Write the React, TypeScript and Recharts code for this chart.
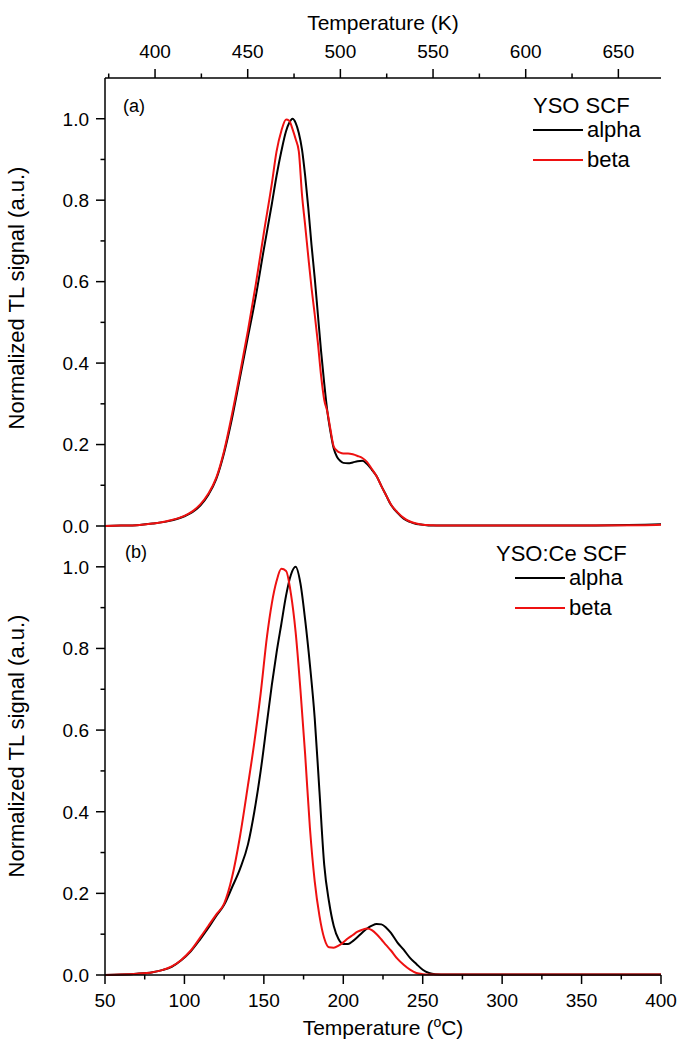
import { LineChart, Line, XAxis, YAxis } from "recharts";

// panel (a): YSO SCF
const topTemp = [50, 60, 70, 80, 90, 100, 105, 110, 115, 120, 125, 130, 135, 140, 145, 150, 155, 158, 161, 164, 166, 168, 170, 172, 174, 176, 178, 180, 182, 184, 186, 188, 190, 192, 194, 196, 198, 200, 203, 206, 209, 212, 215, 218, 221, 224, 227, 230, 234, 238, 242, 246, 250, 255, 260, 270, 300, 350, 390, 400];
const topAlpha = [0, 0.001, 0.002, 0.006, 0.012, 0.024, 0.034, 0.05, 0.076, 0.115, 0.18, 0.265, 0.365, 0.465, 0.565, 0.68, 0.79, 0.86, 0.92, 0.97, 0.99, 1.0, 0.99, 0.965, 0.925, 0.86, 0.78, 0.69, 0.61, 0.52, 0.43, 0.35, 0.28, 0.23, 0.19, 0.17, 0.16, 0.155, 0.154, 0.156, 0.159, 0.16, 0.152, 0.138, 0.122, 0.098, 0.075, 0.052, 0.033, 0.018, 0.01, 0.005, 0.003, 0.001, 0.001, 0.001, 0.001, 0.001, 0.003, 0.004];
const topBeta = [0, 0.001, 0.002, 0.006, 0.013, 0.025, 0.036, 0.053, 0.079, 0.118, 0.185, 0.275, 0.375, 0.48, 0.595, 0.72, 0.84, 0.92, 0.97, 0.998, 0.995, 0.975, 0.95, 0.92, 0.814, 0.738, 0.66, 0.585, 0.52, 0.45, 0.37, 0.31, 0.28, 0.235, 0.195, 0.185, 0.18, 0.178, 0.178, 0.176, 0.172, 0.167, 0.157, 0.14, 0.122, 0.098, 0.075, 0.053, 0.034, 0.02, 0.011, 0.006, 0.003, 0.002, 0.001, 0.001, 0.001, 0.001, 0.002, 0.003];

// panel (b): YSO:Ce SCF
const botTemp = [50, 60, 70, 80, 86, 92, 98, 104, 110, 115, 120, 125, 130, 135, 140, 144, 148, 152, 155, 158, 161, 164, 167, 170, 173, 176, 179, 182, 185, 188, 191, 194, 197, 200, 203, 206, 209, 212, 215, 218, 221, 224, 227, 230, 234, 238, 242, 246, 250, 254, 258, 265, 280, 300, 350, 400];
const botAlpha = [0, 0.001, 0.003, 0.007, 0.012, 0.02, 0.036, 0.058, 0.088, 0.115, 0.145, 0.172, 0.215, 0.26, 0.32, 0.4, 0.5, 0.62, 0.71, 0.79, 0.86, 0.93, 0.98, 1.0, 0.96, 0.87, 0.76, 0.63, 0.45, 0.27, 0.18, 0.12, 0.088, 0.076, 0.076, 0.083, 0.093, 0.104, 0.114, 0.121, 0.125, 0.124, 0.116, 0.103, 0.08, 0.062, 0.042, 0.027, 0.013, 0.005, 0.002, 0.001, 0.001, 0.001, 0.001, 0.001];
const botBeta = [0, 0.001, 0.003, 0.007, 0.012, 0.021, 0.037, 0.06, 0.092, 0.12, 0.148, 0.175, 0.24, 0.34, 0.465, 0.57, 0.69, 0.83, 0.91, 0.965, 0.995, 0.99, 0.935, 0.84, 0.7, 0.54, 0.36, 0.23, 0.145, 0.09, 0.068, 0.067, 0.072, 0.08, 0.09, 0.098, 0.106, 0.111, 0.114, 0.11, 0.1, 0.087, 0.073, 0.06, 0.04, 0.025, 0.013, 0.005, 0.002, 0.001, 0.001, 0.001, 0.001, 0.001, 0.001, 0.001];

const yTicks = [0, 0.1, 0.2, 0.3, 0.4, 0.5, 0.6, 0.7, 0.8, 0.9, 1.0];
const cTicks = [50, 75, 100, 125, 150, 175, 200, 225, 250, 275, 300, 325, 350, 375, 400];
const kTicks = [375, 400, 425, 450, 475, 500, 525, 550, 575, 600, 625, 650];

const SERIES = [
  { key: "alpha", name: "alpha", color: "#000000" },
  { key: "beta", name: "beta", color: "#ee1111" },
];

const FONT = "'Liberation Sans', Arial, sans-serif";
const AXIS = "#000";

const topData = topTemp.map((t, i) => ({ t, alpha: topAlpha[i], beta: topBeta[i] }));
const botData = botTemp.map((t, i) => ({ t, alpha: botAlpha[i], beta: botBeta[i] }));

function YTick(props: any) {
  const { x, y, payload } = props;
  const v = payload.value as number;
  const major = Math.round(v * 10) % 2 === 0;
  return (
    <g>
      <line x1={x} x2={x - (major ? 9 : 4.5)} y1={y} y2={y} stroke={AXIS} strokeWidth={1.5} />
      {major && (
        <text x={x - 16} y={y} dy="0.36em" textAnchor="end" fontSize={19} fontFamily={FONT} fill="#000">
          {v.toFixed(1)}
        </text>
      )}
    </g>
  );
}

function CTick(props: any) {
  const { x, y, payload } = props;
  const v = payload.value as number;
  const major = v % 50 === 0;
  return (
    <g>
      <line x1={x} x2={x} y1={y} y2={y + (major ? 9 : 4.5)} stroke={AXIS} strokeWidth={1.5} />
      {major && (
        <text x={x} y={y + 32} textAnchor="middle" fontSize={19} fontFamily={FONT} fill="#000">
          {v}
        </text>
      )}
    </g>
  );
}

function KTick(props: any) {
  const { x, y, payload } = props;
  const v = payload.value as number;
  const major = v % 50 === 0;
  return (
    <g>
      <line x1={x} x2={x} y1={y} y2={y - (major ? 9 : 4.5)} stroke={AXIS} strokeWidth={1.5} />
      {major && (
        <text x={x} y={y - 20} textAnchor="middle" fontSize={19} fontFamily={FONT} fill="#000">
          {v}
        </text>
      )}
    </g>
  );
}

function Panel({ data, top }: { data: any[]; top: boolean }) {
  return (
    <LineChart
      width={680}
      height={top ? 545 : 517}
      data={data}
      margin={top ? { top: 18, right: 19, bottom: 19, left: 55 } : { top: 0, right: 19, bottom: 0, left: 55 }}
    >
      {top && (
        <XAxis
          xAxisId="k"
          orientation="top"
          dataKey="t"
          type="number"
          domain={[373, 673]}
          allowDataOverflow
          ticks={kTicks}
          interval={0}
          height={60}
          tickSize={0}
          tickMargin={0}
          tick={KTick}
          axisLine={{ stroke: AXIS, strokeWidth: 1.5 }}
        />
      )}
      <XAxis
        xAxisId="c"
        orientation="bottom"
        dataKey="t"
        type="number"
        domain={[50, 400]}
        ticks={cTicks}
        interval={0}
        height={top ? 0 : 68}
        tickSize={0}
        tickMargin={0}
        tick={top ? false : CTick}
        axisLine={{ stroke: AXIS, strokeWidth: 1.5 }}
      />
      <YAxis
        yAxisId="l"
        type="number"
        domain={[0, 1.1]}
        ticks={yTicks}
        interval={0}
        width={50}
        tickSize={0}
        tickMargin={0}
        tick={YTick}
        axisLine={{ stroke: AXIS, strokeWidth: 1.5 }}
      />
      <YAxis
        yAxisId="r"
        orientation="right"
        type="number"
        domain={[0, 1.1]}
        width={0}
        tick={false}
        tickLine={false}
        axisLine={{ stroke: AXIS, strokeWidth: 1.5 }}
      />
      {SERIES.map((s) => (
        <Line
          key={s.key}
          xAxisId="c"
          yAxisId="l"
          type="monotone"
          dataKey={s.key}
          name={s.name}
          stroke={s.color}
          strokeWidth={2}
          dot={false}
          isAnimationActive={false}
        />
      ))}
    </LineChart>
  );
}

function LegendBlock({ title, x, lineX, y }: { title: string; x: number; lineX: number; y: number }) {
  return (
    <g fontFamily={FONT} fill="#000">
      <text x={x} y={y + 8} fontSize={22}>{title}</text>
      {SERIES.map((s, i) => (
        <g key={s.key}>
          <line x1={lineX} x2={lineX + 50} y1={y + 25 + i * 30} y2={y + 25 + i * 30} stroke={s.color} strokeWidth={2} />
          <text x={lineX + 54} y={y + 25 + i * 30} dy="0.3em" fontSize={22}>{s.name}</text>
        </g>
      ))}
    </g>
  );
}

export default function App() {
  return (
    <div style={{ position: "absolute", left: 0, top: 0, width: 680, height: 1043, background: "#fff" }}>
      <div style={{ position: "absolute", left: 0, top: 0 }}>
        <Panel data={topData} top />
      </div>
      <div style={{ position: "absolute", left: 0, top: 526 }}>
        <Panel data={botData} top={false} />
      </div>
      <svg
        width={680}
        height={1043}
        style={{ position: "absolute", left: 0, top: 0, pointerEvents: "none" }}
      >
        <g fontFamily={FONT} fill="#000">
          <text x={383} y={30} textAnchor="middle" fontSize={21}>Temperature (K)</text>
          <text x={383} y={1035} textAnchor="middle" fontSize={21}>
            Temperature (<tspan dy={-8} fontSize={14}>o</tspan>
            <tspan dy={8}>C)</tspan>
          </text>
          <text x={24} y={298} textAnchor="middle" fontSize={22} transform="rotate(-90 24 298)">
            Normalized TL signal (a.u.)
          </text>
          <text x={24} y={746} textAnchor="middle" fontSize={22} transform="rotate(-90 24 746)">
            Normalized TL signal (a.u.)
          </text>
          <text x={123} y={112} fontSize={18}>(a)</text>
          <text x={125} y={558} fontSize={18}>(b)</text>
        </g>
        <LegendBlock title="YSO SCF" x={533} lineX={533} y={105} />
        <LegendBlock title="YSO:Ce SCF" x={496} lineX={515} y={553} />
      </svg>
    </div>
  );
}
